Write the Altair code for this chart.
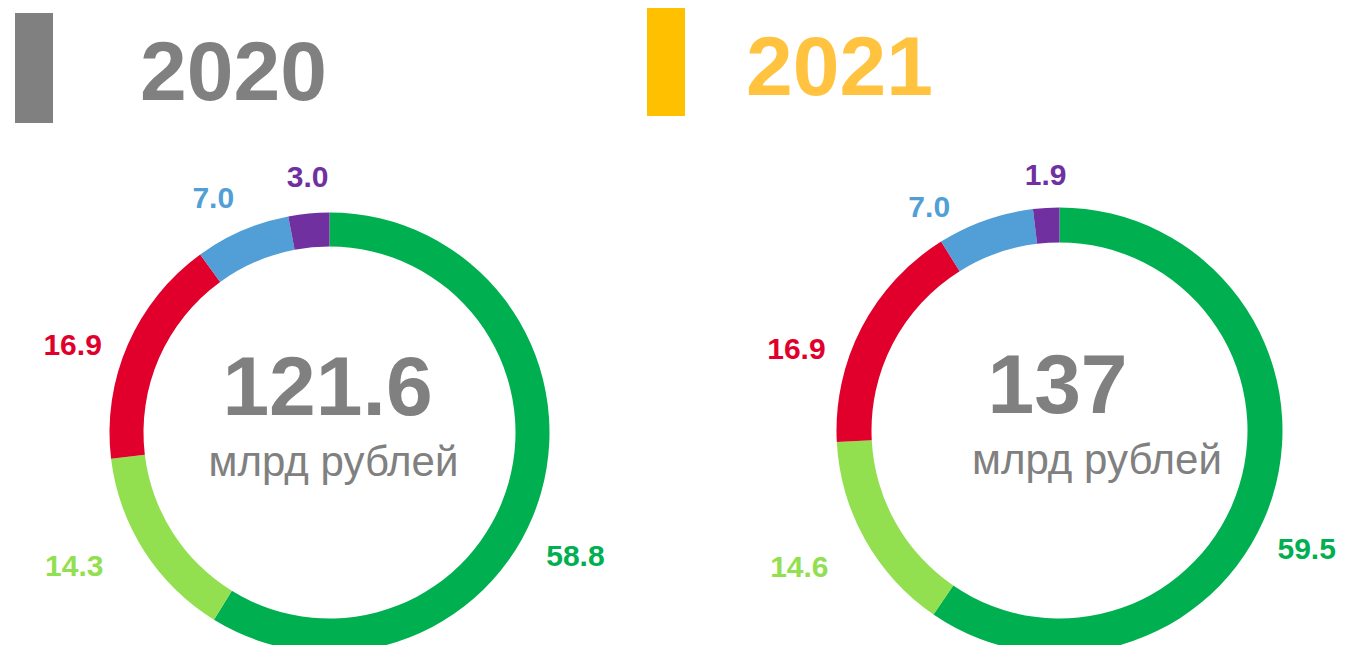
import altair as alt
import pandas as pd

# ---------------- data ----------------
categories = ["s1", "s2", "s3", "s4", "s5"]
years = ["2020", "2021"]
values_2020 = [58.8, 14.3, 16.9, 7.0, 3.0]
values_2021 = [59.5, 14.6, 16.9, 7.0, 1.9]
totals = ["121.6", "137"]
unit_text = "млрд рублей"

# ---------------- styles / layout ----------------
slice_colors = ["#00B050", "#92E050", "#E0002B", "#519FD6", "#7030A0"]
header_bar_colors = {"2020": "#808080", "2021": "#FFC000"}
header_text_colors = {"2020": "#808080", "2021": "#FFC340"}
GRAY = "#808080"
FONT = "Liberation Sans"

W, H = 1329, 637
LAYOUT = {
    "2020": dict(cx=321.5, cy=424.5, r_out=220, r_in=186, r_lab=265,
                 bar=(7, 45, 5, 115), head=(132, 92),
                 total=(319.5, 407), unit=(325.5, 468),
                 offs=[(-9, 52), (-32, -8), (-14, 20), (-11, 10), (3, 9)]),
    "2021": dict(cx=1051.5, cy=422.5, r_out=223, r_in=188, r_lab=265,
                 bar=(639, 677, -2, 108), head=(738, 87),
                 total=(1049.5, 405), unit=(1089, 466),
                 offs=[(-6, 41), (-29, 8), (-28, 42), (-42, 27), (2, 10)]),
}

rows = []
for yr, vals in zip(years, [values_2020, values_2021]):
    for i, (c, v) in enumerate(zip(categories, vals)):
        rows.append({"year": yr, "cat": c, "idx": i, "value": v})
df = pd.DataFrame(rows)

one = pd.DataFrame({"k": [0]})
layers = []

for yr, vals, tot in zip(years, [values_2020, values_2021], totals):
    L = LAYOUT[yr]
    total_sum = round(sum(vals), 4)
    theta_scale = alt.Scale(domain=[0, total_sum])

    # donut ring
    arc = (
        alt.Chart(df)
        .transform_filter(alt.datum.year == yr)
        .mark_arc(outerRadius=L["r_out"], innerRadius=L["r_in"])
        .encode(
            theta=alt.Theta("value:Q", stack=True, scale=theta_scale),
            order=alt.Order("idx:Q"),
            color=alt.Color("cat:N", scale=alt.Scale(domain=categories, range=slice_colors), legend=None),
            x=alt.value(L["cx"]),
            y=alt.value(L["cy"]),
        )
    )
    layers.append(arc)

    # value labels
    for i, c in enumerate(categories):
        dx, dy = L["offs"][i]
        lab = (
            alt.Chart(df)
            .transform_filter(alt.datum.year == yr)
            .transform_window(cum="sum(value)", sort=[alt.SortField("idx")], frame=[None, 0])
            .transform_calculate(mid="datum.cum - datum.value / 2")
            .transform_filter(alt.datum.cat == c)
            .mark_text(font=FONT, fontSize=30, fontWeight="bold", align="center",
                       baseline="middle", dx=dx, dy=dy, color=slice_colors[i])
            .encode(
                theta=alt.Theta("mid:Q", stack=False, scale=theta_scale),
                radius=alt.value(L["r_lab"]),
                x=alt.value(L["cx"]),
                y=alt.value(L["cy"]),
                text=alt.Text("value:Q", format=".1f"),
            )
        )
        layers.append(lab)

    # header bar
    x0, x1, y0, y1 = L["bar"]
    bar = alt.Chart(one).mark_rect(color=header_bar_colors[yr]).encode(
        x=alt.value(x0), x2=alt.value(x1), y=alt.value(y0), y2=alt.value(y1)
    )
    layers.append(bar)

    # header text
    hx, hy = L["head"]
    head = alt.Chart(pd.DataFrame({"t": [yr]})).mark_text(
        font=FONT, fontSize=84, fontWeight="bold", align="left", baseline="alphabetic",
        color=header_text_colors[yr]
    ).encode(text="t:N", x=alt.value(hx), y=alt.value(hy))
    layers.append(head)

    # center total
    tx, ty = L["total"]
    tot_t = alt.Chart(pd.DataFrame({"t": [tot]})).mark_text(
        font=FONT, fontSize=84, fontWeight="bold", align="center", baseline="alphabetic", color=GRAY
    ).encode(text="t:N", x=alt.value(tx), y=alt.value(ty))
    layers.append(tot_t)

    ux, uy = L["unit"]
    unit_t = alt.Chart(pd.DataFrame({"t": [unit_text]})).mark_text(
        font=FONT, fontSize=42, align="center", baseline="alphabetic", color=GRAY
    ).encode(text="t:N", x=alt.value(ux), y=alt.value(uy))
    layers.append(unit_t)

chart = (
    alt.layer(*layers)
    .resolve_scale(theta="independent")
    .properties(width=W, height=H, padding=0, autosize="none", background="white")
    .configure_view(stroke=None)
)

chart.save("out.html", embed_options={"renderer": "svg", "actions": False})
